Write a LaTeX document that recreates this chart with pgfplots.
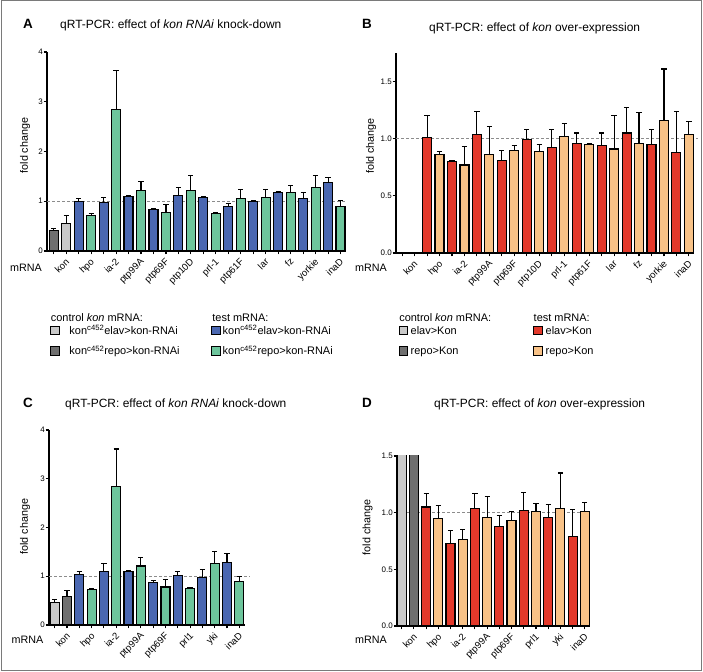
\documentclass[border=0pt]{standalone}
\usepackage{fontspec}
\setmainfont{Liberation Sans}
\usepackage{pgfplots}
\pgfplotsset{compat=1.18}
\usepackage{pgfplotstable}

\definecolor{cLight}{HTML}{C9C9C9}
\definecolor{cDark}{HTML}{6F6F6F}
\definecolor{cBlue}{HTML}{4A67B1}
\definecolor{cGreen}{HTML}{6DC59C}
\definecolor{cRed}{HTML}{E3392B}
\definecolor{cPeach}{HTML}{F8C287}
\definecolor{cDash}{HTML}{8C8C8C}
\definecolor{cFrame}{HTML}{7A7A7A}

% ---------- Panel A ----------
\pgfplotstableread{
x y e
0 0.42 0.04
}\ADark
\pgfplotstableread{
x y e
1 0.56 0.16
}\ALight
\pgfplotstableread{
x y e
2 1.00 0.05
4 0.98 0.09
6 1.10 0.02
8 0.83 0.03
10 1.11 0.16
12 1.07 0.02
14 0.90 0.05
16 0.99 0.02
18 1.17 0.03
20 1.05 0.13
22 1.38 0.09
}\ABlue
\pgfplotstableread{
x y e
3 0.72 0.03
5 2.84 0.78
7 1.22 0.18
9 0.77 0.17
11 1.21 0.30
13 0.75 0.02
15 1.05 0.18
17 1.08 0.15
19 1.18 0.14
21 1.28 0.24
23 0.90 0.11
}\AGreen
% ---------- Panel B ----------
\pgfplotstableread{
x y e
2 1.01 0.19
4 0.80 0.01
6 1.04 0.20
8 0.81 0.09
10 0.99 0.09
12 0.92 0.16
14 0.96 0.09
16 0.94 0.11
18 1.05 0.22
20 0.95 0.13
22 0.88 0.36
}\BRed
\pgfplotstableread{
x y e
3 0.86 0.03
5 0.77 0.16
7 0.86 0.25
9 0.90 0.04
11 0.89 0.06
13 1.02 0.11
15 0.95 0.01
17 0.91 0.29
19 0.96 0.27
21 1.16 0.45
23 1.04 0.11
}\BPeach
% ---------- Panel C ----------
\pgfplotstableread{
x y e
0 0.47 0.06
}\CLight
\pgfplotstableread{
x y e
1 0.58 0.13
}\CDark
\pgfplotstableread{
x y e
2 1.03 0.07
4 1.10 0.17
6 1.09 0.02
8 0.87 0.04
10 1.02 0.07
12 0.97 0.17
14 1.29 0.18
}\CBlue
\pgfplotstableread{
x y e
3 0.73 0.02
5 2.84 0.77
7 1.21 0.17
9 0.78 0.16
11 0.75 0.02
13 1.27 0.23
15 0.89 0.11
}\CGreen
% ---------- Panel D ----------
\pgfplotstableread{
x y e
0 4.50 0.00
}\DLight
\pgfplotstableread{
x y e
1 4.50 0.00
}\DDark
\pgfplotstableread{
x y e
2 1.05 0.12
4 0.73 0.11
6 1.04 0.13
8 0.875 0.10
10 1.02 0.16
12 0.96 0.11
14 0.79 0.24
}\DRed
\pgfplotstableread{
x y e
3 0.95 0.11
5 0.76 0.09
7 0.96 0.18
9 0.93 0.08
11 1.01 0.07
13 1.04 0.31
15 1.01 0.08
}\DPeach

\pgfplotsset{
  qbar/.style={ybar, bar width=9bp, bar shift=0pt, draw=black, line width=1.1bp, fill=#1,
    error bars/y dir=plus, error bars/y explicit,
    error bars/error bar style={line width=1.1bp, black, solid},
    error bars/error mark options={rotate=90, mark size=2.6bp, line width=1.1bp, black}},
  qnobar/.style={ybar, bar width=9bp, bar shift=0pt, draw=black, line width=1.1bp, fill=#1},
  qdash/.style={cDash, line width=0.9bp, dash pattern=on 3bp off 2bp},
  qaxis/.style={
    scale only axis, axis lines=left,
    axis line style={line width=1.2bp, -},
    tick align=outside, major tick length=0pt, minor tick length=3.5bp,
    tick style={line width=1.1bp, black},
    /pgf/number format/assume math mode=true,
    y tick label style={font=\fontsize{8}{9}\selectfont, inner sep=1bp, xshift=-3bp},
    x tick label style={font=\fontsize{9.6}{11}\selectfont, rotate=45, anchor=north east, inner sep=1bp, yshift=-7bp},
    ylabel={fold change}, xlabel={mRNA},
    label style={font=\fontsize{10.8}{12}\selectfont},
    xlabel style={anchor=center},
    ylabel style={anchor=center},
    ymin=0,
  },
  dec/.style={yticklabel style={/pgf/number format/.cd, fixed, fixed zerofill, precision=1}},
}

\newcommand{\lf}{\fontsize{11}{13}\selectfont}
\newcommand{\tf}{\fontsize{12}{14}\selectfont}
\newcommand{\pf}{\fontsize{13.5}{15}\selectfont\bfseries}

\begin{document}
\begin{tikzpicture}[x=1bp,y=1bp]
\useasboundingbox (0,0) rectangle (703,672);
\draw[cFrame, line width=1bp] (1,1) rectangle (701.5,671);

% ===== A =====
\begin{axis}[qaxis, at={(47bp,421bp)}, anchor=south west, width=298bp, height=199bp,
  xmin=-0.54, xmax=23.36, ymax=4, ytick={0,1,2,3,4}, minor ytick={0,1,2,3,4}, clip=false,
  minor xtick={0,...,23}, xtick={0.5,2.5,...,22.5},
  xticklabels={kon,hpo,ia-2,ptp99A,ptp69F,ptp10D,prl-1,ptp61F,lar,fz,yorkie,inaD},
  ylabel style={at={([xshift=-22bp]axis description cs:0,0.53)}},
  xlabel style={at={([xshift=-21bp,yshift=-17bp]axis description cs:0,0)}},
]
\addplot[qdash] coordinates {(-0.54,1) (23.5,1)};
\addplot[qbar=cDark] table[x=x,y=y,y error=e]{\ADark};
\addplot[qbar=cLight] table[x=x,y=y,y error=e]{\ALight};
\addplot[qbar=cBlue] table[x=x,y=y,y error=e]{\ABlue};
\addplot[qbar=cGreen] table[x=x,y=y,y error=e]{\AGreen};
\end{axis}

% ===== B =====
\begin{axis}[qaxis, dec, at={(396bp,419bp)}, anchor=south west, width=297bp, height=200bp,
  xmin=-0.49, xmax=23.33, ymax=1.75, ytick={0,0.5,1,1.5}, minor ytick={0,0.5,1,1.5}, clip=false,
  minor xtick={0,...,23}, xtick={0.5,2.5,...,22.5},
  xticklabels={kon,hpo,ia-2,ptp99A,ptp69F,ptp10D,prl-1,ptp61F,lar,fz,yorkie,inaD},
  ylabel style={at={([xshift=-25bp]axis description cs:0,0.535)}},
  xlabel style={at={([xshift=-25bp,yshift=-15bp]axis description cs:0,0)}},
]
\addplot[qdash] coordinates {(-0.49,1) (23.75,1)};
\addplot[qbar=cRed] table[x=x,y=y,y error=e]{\BRed};
\addplot[qbar=cPeach] table[x=x,y=y,y error=e]{\BPeach};
\end{axis}

% ===== C =====
\begin{axis}[qaxis, at={(49bp,47bp)}, anchor=south west, width=196bp, height=195bp,
  xmin=-0.46, xmax=15.46, ymax=4, ytick={0,1,2,3,4}, minor ytick={0,1,2,3,4}, clip=false,
  minor xtick={0,...,15}, xtick={0.5,2.5,...,14.5},
  xticklabels={kon,hpo,ia-2,ptp99A,ptp69F,prl1,yki,inaD},
  ylabel style={at={([xshift=-24bp]axis description cs:0,0.504)}},
  xlabel style={at={([xshift=-21.5bp,yshift=-15bp]axis description cs:0,0)}},
]
\addplot[qdash] coordinates {(-0.46,1) (15.85,1)};
\addplot[qbar=cLight] table[x=x,y=y,y error=e]{\CLight};
\addplot[qbar=cDark] table[x=x,y=y,y error=e]{\CDark};
\addplot[qbar=cBlue] table[x=x,y=y,y error=e]{\CBlue};
\addplot[qbar=cGreen] table[x=x,y=y,y error=e]{\CGreen};
\end{axis}

% ===== D =====
\begin{axis}[qaxis, dec, at={(397bp,46bp)}, anchor=south west, width=193bp, height=170bp,
  xmin=-0.385, xmax=15.43, ymax=1.5, ytick={0,0.5,1,1.5}, minor ytick={0,0.5,1,1.5}, clip=true,
  minor xtick={0,...,15}, xtick={0.5,2.5,...,14.5},
  xticklabels={kon,hpo,ia-2,ptp99A,ptp69F,prl1,yki,inaD},
  ylabel style={at={([xshift=-29.5bp]axis description cs:0,0.58)}},
  xlabel style={at={([xshift=-26bp,yshift=-14bp]axis description cs:0,0)}},
]
\addplot[qdash] coordinates {(-0.385,1) (15.43,1)};
\addplot[qnobar=cLight] table[x=x,y=y]{\DLight};
\addplot[qnobar=cDark] table[x=x,y=y]{\DDark};
\addplot[qbar=cRed] table[x=x,y=y,y error=e]{\DRed};
\addplot[qbar=cPeach] table[x=x,y=y,y error=e]{\DPeach};
\end{axis}

% ===== titles =====
\node[anchor=base west, inner sep=0, font=\pf] at (23,643) {A};
\node[anchor=base west, inner sep=0, font=\tf] at (60,643) {qRT-PCR: effect of \textit{kon RNAi} knock-down};
\node[anchor=base west, inner sep=0, font=\pf] at (362,643.5) {B};
\node[anchor=base west, inner sep=0, font=\tf] at (429,640.5) {qRT-PCR: effect of \textit{kon} over-expression};
\node[anchor=base west, inner sep=0, font=\pf] at (23,264) {C};
\node[anchor=base west, inner sep=0, font=\tf] at (65,264) {qRT-PCR: effect of \textit{kon RNAi} knock-down};
\node[anchor=base west, inner sep=0, font=\pf] at (362,264) {D};
\node[anchor=base west, inner sep=0, font=\tf] at (434,264) {qRT-PCR: effect of \textit{kon} over-expression};

% ===== legends =====
\begin{scope}[every node/.style={anchor=base west, inner sep=0, font=\lf}]
\node at (50.7,350.3) {control \textit{kon} mRNA:};
\node at (212.2,350.3) {test mRNA:};
\node at (399.1,350.3) {control \textit{kon} mRNA:};
\node at (533.5,350.3) {test mRNA:};
\node at (69.3,337.7) {kon\textsuperscript{c452}elav>kon-RNAi};
\node at (69.3,317) {kon\textsuperscript{c452}repo>kon-RNAi};
\node at (222.5,337.7) {kon\textsuperscript{c452}elav>kon-RNAi};
\node at (222.5,317) {kon\textsuperscript{c452}repo>kon-RNAi};
\node at (410.5,337.7) {elav>Kon};
\node at (410.5,317) {repo>Kon};
\node at (545.5,337.7) {elav>Kon};
\node at (545.5,317) {repo>Kon};
\end{scope}
\begin{scope}[line width=0.9bp]
\draw[fill=cLight] (50.7,337.5) rectangle (59,345.8);
\draw[fill=cDark] (50.7,317) rectangle (59,325.3);
\draw[fill=cBlue] (211.7,337.5) rectangle (220,345.8);
\draw[fill=cGreen] (211.7,317) rectangle (220,325.3);
\draw[fill=cLight] (399.1,337.5) rectangle (407.4,345.8);
\draw[fill=cDark] (399.1,317) rectangle (407.4,325.3);
\draw[fill=cRed] (533.8,337.5) rectangle (542.1,345.8);
\draw[fill=cPeach] (533.8,317) rectangle (542.1,325.3);
\end{scope}
\end{tikzpicture}
\end{document}
